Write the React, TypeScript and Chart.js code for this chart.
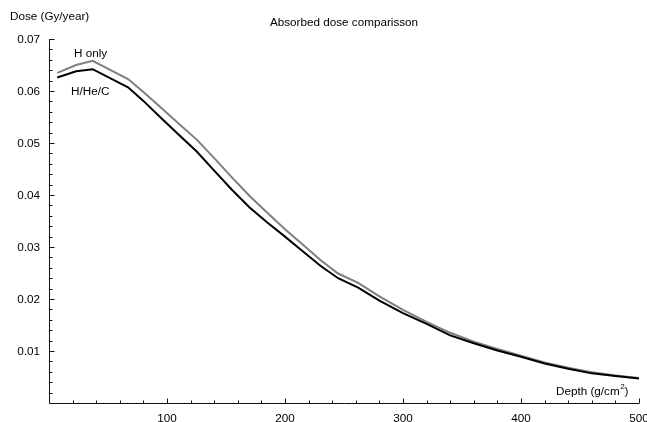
import React, { useEffect, useRef } from "react";
import { Chart, registerables } from "chart.js";

Chart.register(...registerables);

// ---- data ----
const depths = [7, 23, 37, 67, 80, 95, 110, 125, 140, 155, 170, 185, 200, 215, 230, 245, 262, 280, 300, 320, 340, 360, 380, 400, 420, 440, 460, 480, 500];
const hOnly = [0.0635, 0.065, 0.0658, 0.0623, 0.0598, 0.0568, 0.0537, 0.0507, 0.0471, 0.0434, 0.0398, 0.0366, 0.0334, 0.0305, 0.0275, 0.0249, 0.0231, 0.0205, 0.0179, 0.0156, 0.0135, 0.0118, 0.0104, 0.0091, 0.0078, 0.0068, 0.0059, 0.0053, 0.0048];
const hHeC = [0.0626, 0.0638, 0.0642, 0.0607, 0.0581, 0.0548, 0.0516, 0.0484, 0.0447, 0.041, 0.0376, 0.0347, 0.032, 0.0292, 0.0264, 0.024, 0.0222, 0.0197, 0.0173, 0.0152, 0.013, 0.0115, 0.0101, 0.0089, 0.0076, 0.0066, 0.0057, 0.0052, 0.0047];

const xMajorTicks = [100, 200, 300, 400, 500];
const xTickLabels = ["100", "200", "300", "400", "500"];
const yMajorTicks = [0.01, 0.02, 0.03, 0.04, 0.05, 0.06, 0.07];
const yTickLabels = ["0.01", "0.02", "0.03", "0.04", "0.05", "0.06", "0.07"];
const xMinorStep = 20;
const yMinorStep = 0.002;

const titleText = "Absorbed dose comparisson";
const yAxisTitle = "Dose (Gy/year)";
const xAxisTitle = "Depth (g/cm";
const seriesLabels = ["H/He/C", "H only"];

const FONT = '"Liberation Sans", Arial, Helvetica, sans-serif';

const axesPlugin = {
  id: "mmaAxes",
  afterDraw(chart: any) {
    const ctx = chart.ctx as CanvasRenderingContext2D;
    const xs = chart.scales.x;
    const ys = chart.scales.y;
    const ca = chart.chartArea;
    ctx.save();
    ctx.strokeStyle = "#111";
    ctx.lineWidth = 1;
    const ax = Math.round(ca.left) + 0.5;
    const ay = Math.round(ca.bottom) + 0.5;
    const yTop = ys.getPixelForValue(0.07);
    const xRight = xs.getPixelForValue(500);
    ctx.beginPath();
    ctx.moveTo(ax, yTop);
    ctx.lineTo(ax, ay);
    ctx.lineTo(xRight, ay);
    ctx.stroke();

    // x ticks
    ctx.beginPath();
    for (let v = xMinorStep; v <= 500 + 1e-9; v += xMinorStep) {
      const px = Math.round(xs.getPixelForValue(v)) + 0.5;
      const major = Math.abs(v % 100) < 1e-6;
      ctx.moveTo(px, ay);
      ctx.lineTo(px, ay - (major ? 5 : 3));
    }
    // y ticks
    for (let i = 1; i * yMinorStep <= 0.07 + 1e-9; i++) {
      const v = i * yMinorStep;
      const py = Math.round(ys.getPixelForValue(v)) + 0.5;
      const major = i % 5 === 0;
      ctx.moveTo(ax, py);
      ctx.lineTo(ax + (major ? 5 : 3), py);
    }
    ctx.stroke();

    ctx.fillStyle = "#000";
    ctx.font = `11.7px ${FONT}`;
    // x labels
    ctx.textAlign = "center";
    ctx.textBaseline = "top";
    xMajorTicks.forEach((v, i) => {
      ctx.fillText(xTickLabels[i], xs.getPixelForValue(v), 413);
    });
    // y labels
    ctx.textAlign = "right";
    ctx.textBaseline = "middle";
    yMajorTicks.forEach((v, i) => {
      ctx.fillText(yTickLabels[i], 40, ys.getPixelForValue(v) + 0.5);
    });

    // title
    ctx.textAlign = "center";
    ctx.fillText(titleText, (ca.left + ca.right) / 2, 23);
    // y axis title
    ctx.textAlign = "left";
    ctx.fillText(yAxisTitle, 10, 17);
    // x axis title with superscript
    let tx = 556;
    ctx.fillText(xAxisTitle, tx, 392);
    tx += ctx.measureText(xAxisTitle).width;
    ctx.font = `8px ${FONT}`;
    ctx.fillText("2", tx + 0.5, 387);
    tx += ctx.measureText("2").width + 0.5;
    ctx.font = `11.7px ${FONT}`;
    ctx.fillText(")", tx, 392);

    // series labels
    ctx.fillText(seriesLabels[1], 74, 54);
    ctx.fillText(seriesLabels[0], 71, 92);
    ctx.restore();
  },
};

export default function App() {
  const ref = useRef<HTMLCanvasElement | null>(null);
  useEffect(() => {
    if (!ref.current) return;
    const chart = new Chart(ref.current, {
      type: "line",
      data: {
        datasets: [
          {
            label: seriesLabels[0],
            data: depths.map((d, i) => ({ x: d, y: hHeC[i] })),
            borderColor: "#000000",
            borderWidth: 2,
            pointRadius: 0,
            tension: 0,
          },
          {
            label: seriesLabels[1],
            data: depths.map((d, i) => ({ x: d, y: hOnly[i] })),
            borderColor: "#7f7f7f",
            borderWidth: 2,
            pointRadius: 0,
            tension: 0,
          },
        ],
      },
      options: {
        animation: false,
        responsive: false,
        layout: { padding: { left: 49, right: 8, top: 39, bottom: 19 } },
        plugins: { legend: { display: false }, tooltip: { enabled: false }, title: { display: false } },
        scales: {
          x: { type: "linear", min: 0, max: 500, display: false },
          y: { type: "linear", min: 0, max: 0.07, display: false },
        },
      },
      plugins: [axesPlugin],
    });
    return () => chart.destroy();
  }, []);
  return (
    <div style={{ position: "absolute", left: 0, top: 0, width: 647, height: 422, background: "#fff" }}>
      <canvas ref={ref} width={647} height={422} style={{ display: "block", width: 647, height: 422 }} />
    </div>
  );
}
